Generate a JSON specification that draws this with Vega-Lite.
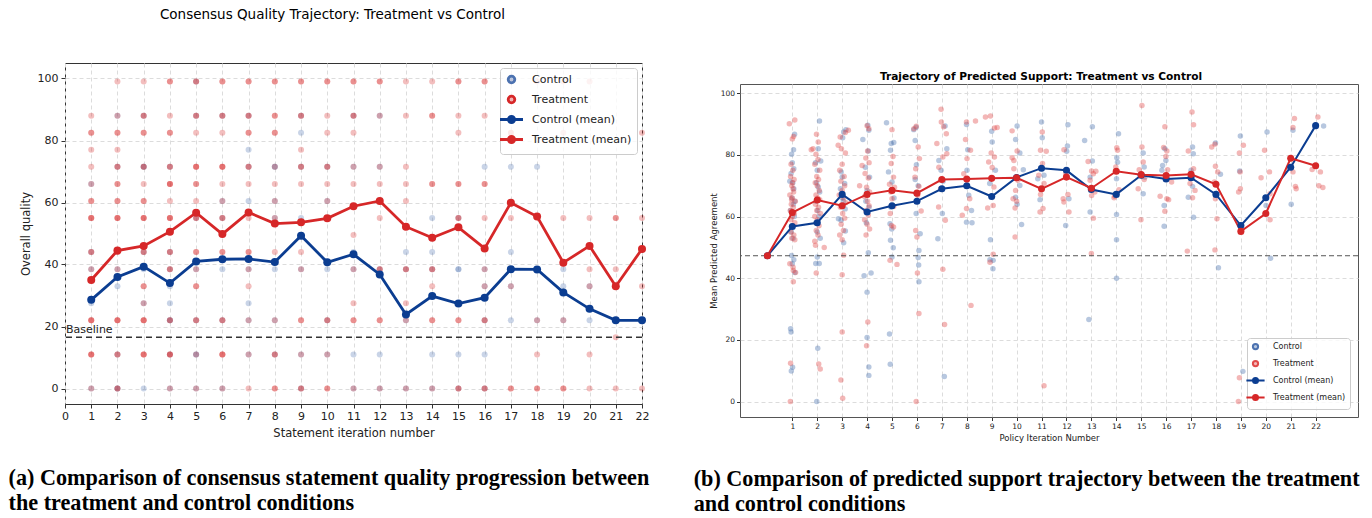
{
"$schema": "https://vega.github.io/schema/vega-lite/v6.json",
"padding": {"left": 8, "top": 7, "right": 0, "bottom": 0},
"background": "white",
"config": {
  "font": "DejaVu Sans",
  "view": {"stroke": null},
  "title": {"color": "#000"},
  "axis": {"labelColor": "#222", "titleColor": "#222", "tickColor": "#333", "domain": false, "titleFontWeight": "normal", "gridDash": [4, 3], "gridColor": "#dcdcdc", "labelFont": "DejaVu Sans", "titleFont": "DejaVu Sans", "labelOverlap": false, "tickCount": 40, "format": "d"}
},
"datasets": {
"a_pts": [
{"g":"Control","i":1,"q":66},{"g":"Control","i":1,"q":44},{"g":"Control","i":1,"q":38.5},{"g":"Control","i":1,"q":27.5},{"g":"Control","i":1,"q":0},
{"g":"Control","i":2,"q":88},{"g":"Control","i":2,"q":71.5},{"g":"Control","i":2,"q":38.5},{"g":"Control","i":2,"q":33},{"g":"Control","i":2,"q":11},{"g":"Control","i":2,"q":0},{"g":"Control","i":2,"q":0},
{"g":"Control","i":3,"q":88},{"g":"Control","i":3,"q":71.5},{"g":"Control","i":3,"q":71.5},{"g":"Control","i":3,"q":44},{"g":"Control","i":3,"q":38.5},{"g":"Control","i":3,"q":27.5},{"g":"Control","i":3,"q":0},
{"g":"Control","i":4,"q":71.5},{"g":"Control","i":4,"q":44},{"g":"Control","i":4,"q":38.5},{"g":"Control","i":4,"q":33},{"g":"Control","i":4,"q":27.5},{"g":"Control","i":4,"q":22},{"g":"Control","i":4,"q":22},{"g":"Control","i":4,"q":11},{"g":"Control","i":4,"q":0},
{"g":"Control","i":5,"q":99},{"g":"Control","i":5,"q":88},{"g":"Control","i":5,"q":55},{"g":"Control","i":5,"q":38.5},{"g":"Control","i":5,"q":22},{"g":"Control","i":5,"q":11},{"g":"Control","i":5,"q":11},{"g":"Control","i":5,"q":0},
{"g":"Control","i":6,"q":88},{"g":"Control","i":6,"q":60.5},{"g":"Control","i":6,"q":55},{"g":"Control","i":6,"q":38.5},{"g":"Control","i":6,"q":22},{"g":"Control","i":6,"q":0},
{"g":"Control","i":7,"q":88},{"g":"Control","i":7,"q":77},{"g":"Control","i":7,"q":71.5},{"g":"Control","i":7,"q":60.5},{"g":"Control","i":7,"q":38.5},{"g":"Control","i":7,"q":27.5},{"g":"Control","i":7,"q":22},{"g":"Control","i":7,"q":11},
{"g":"Control","i":8,"q":71.5},{"g":"Control","i":8,"q":71.5},{"g":"Control","i":8,"q":60.5},{"g":"Control","i":8,"q":55},{"g":"Control","i":8,"q":38.5},{"g":"Control","i":8,"q":22},{"g":"Control","i":8,"q":11},
{"g":"Control","i":9,"q":88},{"g":"Control","i":9,"q":82.5},{"g":"Control","i":9,"q":71.5},{"g":"Control","i":9,"q":55},{"g":"Control","i":9,"q":49.5},{"g":"Control","i":9,"q":38.5},{"g":"Control","i":9,"q":11},{"g":"Control","i":9,"q":0},
{"g":"Control","i":10,"q":71.5},{"g":"Control","i":10,"q":60.5},{"g":"Control","i":10,"q":38.5},{"g":"Control","i":10,"q":22},{"g":"Control","i":10,"q":11},
{"g":"Control","i":11,"q":88},{"g":"Control","i":11,"q":71.5},{"g":"Control","i":11,"q":44},{"g":"Control","i":11,"q":38.5},{"g":"Control","i":11,"q":11},{"g":"Control","i":11,"q":0},
{"g":"Control","i":12,"q":88},{"g":"Control","i":12,"q":71.5},{"g":"Control","i":12,"q":38.5},{"g":"Control","i":12,"q":11},{"g":"Control","i":12,"q":0},
{"g":"Control","i":13,"q":44},{"g":"Control","i":13,"q":38.5},{"g":"Control","i":13,"q":22},{"g":"Control","i":13,"q":0},
{"g":"Control","i":14,"q":55},{"g":"Control","i":14,"q":44},{"g":"Control","i":14,"q":38.5},{"g":"Control","i":14,"q":11},{"g":"Control","i":14,"q":0},
{"g":"Control","i":15,"q":55},{"g":"Control","i":15,"q":38.5},{"g":"Control","i":15,"q":38.5},{"g":"Control","i":15,"q":11},{"g":"Control","i":15,"q":0},
{"g":"Control","i":16,"q":71.5},{"g":"Control","i":16,"q":38.5},{"g":"Control","i":16,"q":33},{"g":"Control","i":16,"q":22},{"g":"Control","i":16,"q":11},{"g":"Control","i":16,"q":0},
{"g":"Control","i":17,"q":71.5},{"g":"Control","i":17,"q":44},{"g":"Control","i":17,"q":33},{"g":"Control","i":17,"q":22},
{"g":"Control","i":18,"q":71.5},{"g":"Control","i":18,"q":38.5},{"g":"Control","i":18,"q":22},
{"g":"Control","i":19,"q":38.5},{"g":"Control","i":19,"q":33},{"g":"Control","i":19,"q":22},
{"g":"Control","i":20,"q":33},{"g":"Control","i":20,"q":22},
{"g":"Control","i":21,"q":22},
{"g":"Control","i":22,"q":22},
{"g":"Treatment","i":1,"q":88},{"g":"Treatment","i":1,"q":82.5},{"g":"Treatment","i":1,"q":82.5},{"g":"Treatment","i":1,"q":77},{"g":"Treatment","i":1,"q":71.5},{"g":"Treatment","i":1,"q":66},{"g":"Treatment","i":1,"q":60.5},{"g":"Treatment","i":1,"q":60.5},{"g":"Treatment","i":1,"q":55},{"g":"Treatment","i":1,"q":55},{"g":"Treatment","i":1,"q":55},{"g":"Treatment","i":1,"q":44},{"g":"Treatment","i":1,"q":44},{"g":"Treatment","i":1,"q":38.5},{"g":"Treatment","i":1,"q":22},{"g":"Treatment","i":1,"q":22},{"g":"Treatment","i":1,"q":22},{"g":"Treatment","i":1,"q":11},{"g":"Treatment","i":1,"q":11},{"g":"Treatment","i":1,"q":11},{"g":"Treatment","i":1,"q":0},
{"g":"Treatment","i":2,"q":99},{"g":"Treatment","i":2,"q":88},{"g":"Treatment","i":2,"q":82.5},{"g":"Treatment","i":2,"q":82.5},{"g":"Treatment","i":2,"q":77},{"g":"Treatment","i":2,"q":71.5},{"g":"Treatment","i":2,"q":71.5},{"g":"Treatment","i":2,"q":66},{"g":"Treatment","i":2,"q":66},{"g":"Treatment","i":2,"q":60.5},{"g":"Treatment","i":2,"q":60.5},{"g":"Treatment","i":2,"q":55},{"g":"Treatment","i":2,"q":55},{"g":"Treatment","i":2,"q":55},{"g":"Treatment","i":2,"q":44},{"g":"Treatment","i":2,"q":44},{"g":"Treatment","i":2,"q":38.5},{"g":"Treatment","i":2,"q":22},{"g":"Treatment","i":2,"q":22},{"g":"Treatment","i":2,"q":22},{"g":"Treatment","i":2,"q":11},{"g":"Treatment","i":2,"q":11},{"g":"Treatment","i":2,"q":0},{"g":"Treatment","i":2,"q":0},
{"g":"Treatment","i":3,"q":99},{"g":"Treatment","i":3,"q":88},{"g":"Treatment","i":3,"q":88},{"g":"Treatment","i":3,"q":82.5},{"g":"Treatment","i":3,"q":82.5},{"g":"Treatment","i":3,"q":71.5},{"g":"Treatment","i":3,"q":71.5},{"g":"Treatment","i":3,"q":66},{"g":"Treatment","i":3,"q":60.5},{"g":"Treatment","i":3,"q":60.5},{"g":"Treatment","i":3,"q":55},{"g":"Treatment","i":3,"q":55},{"g":"Treatment","i":3,"q":55},{"g":"Treatment","i":3,"q":44},{"g":"Treatment","i":3,"q":44},{"g":"Treatment","i":3,"q":33},{"g":"Treatment","i":3,"q":33},{"g":"Treatment","i":3,"q":27.5},{"g":"Treatment","i":3,"q":22},{"g":"Treatment","i":3,"q":22},{"g":"Treatment","i":3,"q":22},{"g":"Treatment","i":3,"q":11},{"g":"Treatment","i":3,"q":11},{"g":"Treatment","i":3,"q":11},
{"g":"Treatment","i":4,"q":99},{"g":"Treatment","i":4,"q":99},{"g":"Treatment","i":4,"q":88},{"g":"Treatment","i":4,"q":82.5},{"g":"Treatment","i":4,"q":82.5},{"g":"Treatment","i":4,"q":71.5},{"g":"Treatment","i":4,"q":71.5},{"g":"Treatment","i":4,"q":66},{"g":"Treatment","i":4,"q":66},{"g":"Treatment","i":4,"q":66},{"g":"Treatment","i":4,"q":60.5},{"g":"Treatment","i":4,"q":55},{"g":"Treatment","i":4,"q":55},{"g":"Treatment","i":4,"q":55},{"g":"Treatment","i":4,"q":44},{"g":"Treatment","i":4,"q":44},{"g":"Treatment","i":4,"q":38.5},{"g":"Treatment","i":4,"q":38.5},{"g":"Treatment","i":4,"q":22},{"g":"Treatment","i":4,"q":22},{"g":"Treatment","i":4,"q":11},{"g":"Treatment","i":4,"q":11},{"g":"Treatment","i":4,"q":11},{"g":"Treatment","i":4,"q":0},
{"g":"Treatment","i":5,"q":99},{"g":"Treatment","i":5,"q":99},{"g":"Treatment","i":5,"q":88},{"g":"Treatment","i":5,"q":88},{"g":"Treatment","i":5,"q":82.5},{"g":"Treatment","i":5,"q":71.5},{"g":"Treatment","i":5,"q":71.5},{"g":"Treatment","i":5,"q":71.5},{"g":"Treatment","i":5,"q":66},{"g":"Treatment","i":5,"q":66},{"g":"Treatment","i":5,"q":60.5},{"g":"Treatment","i":5,"q":55},{"g":"Treatment","i":5,"q":55},{"g":"Treatment","i":5,"q":44},{"g":"Treatment","i":5,"q":44},{"g":"Treatment","i":5,"q":38.5},{"g":"Treatment","i":5,"q":33},{"g":"Treatment","i":5,"q":33},{"g":"Treatment","i":5,"q":22},{"g":"Treatment","i":5,"q":22},{"g":"Treatment","i":5,"q":11},{"g":"Treatment","i":5,"q":0},
{"g":"Treatment","i":6,"q":99},{"g":"Treatment","i":6,"q":99},{"g":"Treatment","i":6,"q":88},{"g":"Treatment","i":6,"q":88},{"g":"Treatment","i":6,"q":82.5},{"g":"Treatment","i":6,"q":71.5},{"g":"Treatment","i":6,"q":71.5},{"g":"Treatment","i":6,"q":71.5},{"g":"Treatment","i":6,"q":66},{"g":"Treatment","i":6,"q":60.5},{"g":"Treatment","i":6,"q":55},{"g":"Treatment","i":6,"q":55},{"g":"Treatment","i":6,"q":44},{"g":"Treatment","i":6,"q":44},{"g":"Treatment","i":6,"q":22},{"g":"Treatment","i":6,"q":22},{"g":"Treatment","i":6,"q":11},{"g":"Treatment","i":6,"q":11},{"g":"Treatment","i":6,"q":11},{"g":"Treatment","i":6,"q":0},
{"g":"Treatment","i":7,"q":99},{"g":"Treatment","i":7,"q":99},{"g":"Treatment","i":7,"q":88},{"g":"Treatment","i":7,"q":88},{"g":"Treatment","i":7,"q":82.5},{"g":"Treatment","i":7,"q":82.5},{"g":"Treatment","i":7,"q":71.5},{"g":"Treatment","i":7,"q":71.5},{"g":"Treatment","i":7,"q":66},{"g":"Treatment","i":7,"q":55},{"g":"Treatment","i":7,"q":44},{"g":"Treatment","i":7,"q":44},{"g":"Treatment","i":7,"q":38.5},{"g":"Treatment","i":7,"q":33},{"g":"Treatment","i":7,"q":22},{"g":"Treatment","i":7,"q":11},{"g":"Treatment","i":7,"q":0},
{"g":"Treatment","i":8,"q":99},{"g":"Treatment","i":8,"q":99},{"g":"Treatment","i":8,"q":88},{"g":"Treatment","i":8,"q":88},{"g":"Treatment","i":8,"q":82.5},{"g":"Treatment","i":8,"q":82.5},{"g":"Treatment","i":8,"q":71.5},{"g":"Treatment","i":8,"q":66},{"g":"Treatment","i":8,"q":60.5},{"g":"Treatment","i":8,"q":55},{"g":"Treatment","i":8,"q":44},{"g":"Treatment","i":8,"q":22},{"g":"Treatment","i":8,"q":11},{"g":"Treatment","i":8,"q":11},{"g":"Treatment","i":8,"q":0},{"g":"Treatment","i":8,"q":0},
{"g":"Treatment","i":9,"q":99},{"g":"Treatment","i":9,"q":99},{"g":"Treatment","i":9,"q":88},{"g":"Treatment","i":9,"q":88},{"g":"Treatment","i":9,"q":77},{"g":"Treatment","i":9,"q":71.5},{"g":"Treatment","i":9,"q":71.5},{"g":"Treatment","i":9,"q":66},{"g":"Treatment","i":9,"q":44},{"g":"Treatment","i":9,"q":38.5},{"g":"Treatment","i":9,"q":22},{"g":"Treatment","i":9,"q":22},{"g":"Treatment","i":9,"q":11},{"g":"Treatment","i":9,"q":0},{"g":"Treatment","i":9,"q":0},
{"g":"Treatment","i":10,"q":99},{"g":"Treatment","i":10,"q":99},{"g":"Treatment","i":10,"q":88},{"g":"Treatment","i":10,"q":82.5},{"g":"Treatment","i":10,"q":71.5},{"g":"Treatment","i":10,"q":71.5},{"g":"Treatment","i":10,"q":66},{"g":"Treatment","i":10,"q":60.5},{"g":"Treatment","i":10,"q":22},{"g":"Treatment","i":10,"q":22},{"g":"Treatment","i":10,"q":11},{"g":"Treatment","i":10,"q":0},{"g":"Treatment","i":10,"q":0},
{"g":"Treatment","i":11,"q":99},{"g":"Treatment","i":11,"q":99},{"g":"Treatment","i":11,"q":88},{"g":"Treatment","i":11,"q":88},{"g":"Treatment","i":11,"q":82.5},{"g":"Treatment","i":11,"q":71.5},{"g":"Treatment","i":11,"q":66},{"g":"Treatment","i":11,"q":49.5},{"g":"Treatment","i":11,"q":38.5},{"g":"Treatment","i":11,"q":27.5},{"g":"Treatment","i":11,"q":22},{"g":"Treatment","i":11,"q":22},{"g":"Treatment","i":11,"q":0},
{"g":"Treatment","i":12,"q":99},{"g":"Treatment","i":12,"q":99},{"g":"Treatment","i":12,"q":88},{"g":"Treatment","i":12,"q":71.5},{"g":"Treatment","i":12,"q":66},{"g":"Treatment","i":12,"q":55},{"g":"Treatment","i":12,"q":38.5},{"g":"Treatment","i":12,"q":38.5},{"g":"Treatment","i":12,"q":22},{"g":"Treatment","i":12,"q":22},{"g":"Treatment","i":12,"q":0},
{"g":"Treatment","i":13,"q":99},{"g":"Treatment","i":13,"q":88},{"g":"Treatment","i":13,"q":71.5},{"g":"Treatment","i":13,"q":66},{"g":"Treatment","i":13,"q":60.5},{"g":"Treatment","i":13,"q":38.5},{"g":"Treatment","i":13,"q":38.5},{"g":"Treatment","i":13,"q":27.5},{"g":"Treatment","i":13,"q":22},{"g":"Treatment","i":13,"q":0},
{"g":"Treatment","i":14,"q":99},{"g":"Treatment","i":14,"q":88},{"g":"Treatment","i":14,"q":88},{"g":"Treatment","i":14,"q":66},{"g":"Treatment","i":14,"q":66},{"g":"Treatment","i":14,"q":38.5},{"g":"Treatment","i":14,"q":38.5},{"g":"Treatment","i":14,"q":33},{"g":"Treatment","i":14,"q":22},{"g":"Treatment","i":14,"q":22},{"g":"Treatment","i":14,"q":0},
{"g":"Treatment","i":15,"q":99},{"g":"Treatment","i":15,"q":99},{"g":"Treatment","i":15,"q":88},{"g":"Treatment","i":15,"q":82.5},{"g":"Treatment","i":15,"q":66},{"g":"Treatment","i":15,"q":66},{"g":"Treatment","i":15,"q":55},{"g":"Treatment","i":15,"q":55},{"g":"Treatment","i":15,"q":22},{"g":"Treatment","i":15,"q":22},{"g":"Treatment","i":15,"q":0},{"g":"Treatment","i":15,"q":0},
{"g":"Treatment","i":16,"q":99},{"g":"Treatment","i":16,"q":99},{"g":"Treatment","i":16,"q":88},{"g":"Treatment","i":16,"q":66},{"g":"Treatment","i":16,"q":66},{"g":"Treatment","i":16,"q":55},{"g":"Treatment","i":16,"q":38.5},{"g":"Treatment","i":16,"q":33},{"g":"Treatment","i":16,"q":22},{"g":"Treatment","i":16,"q":22},{"g":"Treatment","i":16,"q":0},{"g":"Treatment","i":16,"q":0},
{"g":"Treatment","i":17,"q":99},{"g":"Treatment","i":17,"q":82.5},{"g":"Treatment","i":17,"q":82.5},{"g":"Treatment","i":17,"q":55},{"g":"Treatment","i":17,"q":33},{"g":"Treatment","i":17,"q":0},{"g":"Treatment","i":17,"q":0},
{"g":"Treatment","i":18,"q":99},{"g":"Treatment","i":18,"q":22},{"g":"Treatment","i":18,"q":11},{"g":"Treatment","i":18,"q":0},{"g":"Treatment","i":18,"q":0},
{"g":"Treatment","i":19,"q":99},{"g":"Treatment","i":19,"q":82.5},{"g":"Treatment","i":19,"q":55},{"g":"Treatment","i":19,"q":22},{"g":"Treatment","i":19,"q":0},{"g":"Treatment","i":19,"q":0},
{"g":"Treatment","i":20,"q":99},{"g":"Treatment","i":20,"q":55},{"g":"Treatment","i":20,"q":38.5},{"g":"Treatment","i":20,"q":33},{"g":"Treatment","i":20,"q":11},{"g":"Treatment","i":20,"q":0},
{"g":"Treatment","i":21,"q":55},{"g":"Treatment","i":21,"q":55},{"g":"Treatment","i":21,"q":38.5},{"g":"Treatment","i":21,"q":16.5},{"g":"Treatment","i":21,"q":0},
{"g":"Treatment","i":22,"q":82.5},{"g":"Treatment","i":22,"q":55},{"g":"Treatment","i":22,"q":33},{"g":"Treatment","i":22,"q":0}
],
"a_mean": [
{"g":"Control (mean)","i":1,"q":28.6},{"g":"Control (mean)","i":2,"q":36},{"g":"Control (mean)","i":3,"q":39.3},{"g":"Control (mean)","i":4,"q":34},{"g":"Control (mean)","i":5,"q":41},{"g":"Control (mean)","i":6,"q":41.7},{"g":"Control (mean)","i":7,"q":41.8},{"g":"Control (mean)","i":8,"q":40.8},{"g":"Control (mean)","i":9,"q":49.3},{"g":"Control (mean)","i":10,"q":40.7},{"g":"Control (mean)","i":11,"q":43.3},{"g":"Control (mean)","i":12,"q":36.8},{"g":"Control (mean)","i":13,"q":23.9},{"g":"Control (mean)","i":14,"q":29.8},{"g":"Control (mean)","i":15,"q":27.4},{"g":"Control (mean)","i":16,"q":29.3},{"g":"Control (mean)","i":17,"q":38.5},{"g":"Control (mean)","i":18,"q":38.4},{"g":"Control (mean)","i":19,"q":31},{"g":"Control (mean)","i":20,"q":25.7},{"g":"Control (mean)","i":21,"q":22},{"g":"Control (mean)","i":22,"q":22},
{"g":"Treatment (mean)","i":1,"q":35},{"g":"Treatment (mean)","i":2,"q":44.5},{"g":"Treatment (mean)","i":3,"q":46},{"g":"Treatment (mean)","i":4,"q":50.6},{"g":"Treatment (mean)","i":5,"q":56.7},{"g":"Treatment (mean)","i":6,"q":49.8},{"g":"Treatment (mean)","i":7,"q":56.8},{"g":"Treatment (mean)","i":8,"q":53.2},{"g":"Treatment (mean)","i":9,"q":53.6},{"g":"Treatment (mean)","i":10,"q":54.9},{"g":"Treatment (mean)","i":11,"q":58.8},{"g":"Treatment (mean)","i":12,"q":60.5},{"g":"Treatment (mean)","i":13,"q":52.2},{"g":"Treatment (mean)","i":14,"q":48.6},{"g":"Treatment (mean)","i":15,"q":52},{"g":"Treatment (mean)","i":16,"q":45.2},{"g":"Treatment (mean)","i":17,"q":59.9},{"g":"Treatment (mean)","i":18,"q":55.5},{"g":"Treatment (mean)","i":19,"q":40.6},{"g":"Treatment (mean)","i":20,"q":46},{"g":"Treatment (mean)","i":21,"q":33},{"g":"Treatment (mean)","i":22,"q":45}
],
"b_pts": [
{"g":"Control","x":1.09,"v":86.7},{"g":"Control","x":1.05,"v":81.7},{"g":"Control","x":0.97,"v":80.2},{"g":"Control","x":1.0,"v":77.5},{"g":"Control","x":0.95,"v":74},{"g":"Control","x":1.06,"v":75.5},{"g":"Control","x":1.02,"v":71},{"g":"Control","x":0.9,"v":71.5},{"g":"Control","x":1.06,"v":69},{"g":"Control","x":0.98,"v":66},{"g":"Control","x":1.1,"v":65},{"g":"Control","x":1.04,"v":64},{"g":"Control","x":0.93,"v":62},{"g":"Control","x":1.08,"v":60},{"g":"Control","x":1.0,"v":57},{"g":"Control","x":0.96,"v":55},{"g":"Control","x":1.03,"v":53},{"g":"Control","x":0.97,"v":47.4},{"g":"Control","x":1.06,"v":46},{"g":"Control","x":1.0,"v":44.7},{"g":"Control","x":1.1,"v":41.9},{"g":"Control","x":0.93,"v":23.6},{"g":"Control","x":0.95,"v":22.6},{"g":"Control","x":1.01,"v":11.1},{"g":"Control","x":0.96,"v":9.9},
{"g":"Control","x":2.09,"v":91},{"g":"Control","x":2.04,"v":82},{"g":"Control","x":2.14,"v":78},{"g":"Control","x":1.93,"v":77.5},{"g":"Control","x":2.0,"v":75},{"g":"Control","x":1.97,"v":71},{"g":"Control","x":2.04,"v":69.6},{"g":"Control","x":2.1,"v":68},{"g":"Control","x":1.96,"v":65},{"g":"Control","x":2.02,"v":62},{"g":"Control","x":2.07,"v":60},{"g":"Control","x":1.94,"v":58},{"g":"Control","x":2.0,"v":55},{"g":"Control","x":2.12,"v":53},{"g":"Control","x":2.0,"v":46.9},{"g":"Control","x":1.94,"v":44.8},{"g":"Control","x":2.08,"v":44.8},{"g":"Control","x":2.02,"v":17.3},{"g":"Control","x":1.98,"v":0},
{"g":"Control","x":3.06,"v":87.4},{"g":"Control","x":3.02,"v":85.6},{"g":"Control","x":3.15,"v":88.2},{"g":"Control","x":2.96,"v":74.5},{"g":"Control","x":3.0,"v":72.8},{"g":"Control","x":3.1,"v":70.7},{"g":"Control","x":2.93,"v":69},{"g":"Control","x":3.05,"v":65},{"g":"Control","x":3.12,"v":62.5},{"g":"Control","x":2.85,"v":59.3},{"g":"Control","x":2.96,"v":58.8},{"g":"Control","x":3.13,"v":55.3},{"g":"Control","x":3.06,"v":51.5},{"g":"Control","x":3.0,"v":66},
{"g":"Control","x":4.03,"v":89.6},{"g":"Control","x":4.07,"v":88},{"g":"Control","x":3.83,"v":85},{"g":"Control","x":4.05,"v":81.3},{"g":"Control","x":3.93,"v":76},{"g":"Control","x":4.1,"v":72.8},{"g":"Control","x":4.0,"v":68.5},{"g":"Control","x":3.95,"v":65},{"g":"Control","x":4.08,"v":63},{"g":"Control","x":3.97,"v":58},{"g":"Control","x":4.05,"v":48.3},{"g":"Control","x":3.88,"v":40.8},{"g":"Control","x":4.16,"v":41.7},{"g":"Control","x":4.0,"v":35.5},{"g":"Control","x":4.0,"v":20.8},{"g":"Control","x":4.07,"v":11.2},{"g":"Control","x":4.07,"v":8.5},
{"g":"Control","x":4.78,"v":90.4},{"g":"Control","x":4.97,"v":83.7},{"g":"Control","x":5.07,"v":84},{"g":"Control","x":4.94,"v":81.5},{"g":"Control","x":4.86,"v":74.5},{"g":"Control","x":5.0,"v":71.2},{"g":"Control","x":5.08,"v":66},{"g":"Control","x":4.95,"v":63},{"g":"Control","x":4.92,"v":57.7},{"g":"Control","x":4.99,"v":56},{"g":"Control","x":4.94,"v":52.3},{"g":"Control","x":5.05,"v":49.9},{"g":"Control","x":5.0,"v":46.9},{"g":"Control","x":4.9,"v":21.9},{"g":"Control","x":4.93,"v":12.1},
{"g":"Control","x":5.87,"v":88.2},{"g":"Control","x":5.97,"v":89},{"g":"Control","x":5.93,"v":84.7},{"g":"Control","x":5.98,"v":76.8},{"g":"Control","x":5.93,"v":72},{"g":"Control","x":6.05,"v":70},{"g":"Control","x":5.98,"v":67.4},{"g":"Control","x":5.97,"v":61},{"g":"Control","x":6.13,"v":54.4},{"g":"Control","x":6.08,"v":49},{"g":"Control","x":6.05,"v":46.7},{"g":"Control","x":6.07,"v":44.3},{"g":"Control","x":6.08,"v":38.9},
{"g":"Control","x":7.13,"v":89.4},{"g":"Control","x":7.2,"v":82},{"g":"Control","x":6.88,"v":78.2},{"g":"Control","x":6.97,"v":75},{"g":"Control","x":7.05,"v":71.5},{"g":"Control","x":7.02,"v":61},{"g":"Control","x":6.84,"v":52.8},{"g":"Control","x":7.1,"v":8.1},
{"g":"Control","x":7.99,"v":89.9},{"g":"Control","x":8.04,"v":81.7},{"g":"Control","x":8.01,"v":75},{"g":"Control","x":8.08,"v":66.9},{"g":"Control","x":8.19,"v":62},{"g":"Control","x":7.99,"v":58.2},{"g":"Control","x":8.21,"v":58},
{"g":"Control","x":9.0,"v":87.7},{"g":"Control","x":9.02,"v":84.2},{"g":"Control","x":9.15,"v":75},{"g":"Control","x":8.92,"v":70.7},{"g":"Control","x":8.95,"v":52.5},{"g":"Control","x":9.06,"v":45.8},{"g":"Control","x":9.05,"v":43.1},{"g":"Control","x":8.93,"v":46},
{"g":"Control","x":10.02,"v":89.4},{"g":"Control","x":9.96,"v":85},{"g":"Control","x":10.13,"v":80.6},{"g":"Control","x":10.27,"v":75.2},{"g":"Control","x":10.13,"v":70.1},{"g":"Control","x":9.96,"v":66.3},{"g":"Control","x":10.02,"v":64},{"g":"Control","x":10.2,"v":57.4},
{"g":"Control","x":11.0,"v":90.7},{"g":"Control","x":11.03,"v":85.6},{"g":"Control","x":10.85,"v":72.3},{"g":"Control","x":11.1,"v":73.4},{"g":"Control","x":10.94,"v":65.5},
{"g":"Control","x":12.06,"v":89.8},{"g":"Control","x":12.04,"v":82.9},{"g":"Control","x":12.01,"v":81.2},{"g":"Control","x":12.1,"v":65.8},{"g":"Control","x":11.97,"v":57.1},
{"g":"Control","x":13.04,"v":89.1},{"g":"Control","x":12.73,"v":84.7},{"g":"Control","x":13.04,"v":78},{"g":"Control","x":12.95,"v":72.8},{"g":"Control","x":12.95,"v":61.5},{"g":"Control","x":12.9,"v":26.6},
{"g":"Control","x":14.09,"v":86.9},{"g":"Control","x":14.02,"v":79.1},{"g":"Control","x":14.05,"v":77.6},{"g":"Control","x":14.01,"v":72.3},{"g":"Control","x":14.01,"v":60.7},{"g":"Control","x":14.01,"v":52.5},{"g":"Control","x":14.01,"v":40},
{"g":"Control","x":15.08,"v":80.6},{"g":"Control","x":15.12,"v":76.1},{"g":"Control","x":15.15,"v":72.8},{"g":"Control","x":15.08,"v":67.4},
{"g":"Control","x":15.95,"v":82},{"g":"Control","x":15.99,"v":78.2},{"g":"Control","x":15.86,"v":76.6},{"g":"Control","x":15.83,"v":75},{"g":"Control","x":15.92,"v":63.6},{"g":"Control","x":15.92,"v":56.9},
{"g":"Control","x":17.06,"v":82.6},{"g":"Control","x":17.09,"v":80.4},{"g":"Control","x":17.0,"v":75},{"g":"Control","x":17.06,"v":69.8},{"g":"Control","x":16.89,"v":66.3},{"g":"Control","x":17.1,"v":59.8},
{"g":"Control","x":17.98,"v":83.9},{"g":"Control","x":18.18,"v":73.7},{"g":"Control","x":18.1,"v":43.4},
{"g":"Control","x":18.98,"v":86.1},{"g":"Control","x":18.95,"v":74.8},{"g":"Control","x":19.08,"v":9.8},
{"g":"Control","x":20.05,"v":87.4},{"g":"Control","x":20.01,"v":63.6},{"g":"Control","x":20.19,"v":46.5},
{"g":"Control","x":21.09,"v":88},{"g":"Control","x":21.02,"v":64},
{"g":"Control","x":22.32,"v":89.4},
{"g":"Treatment","x":0.88,"v":90.1},{"g":"Treatment","x":1.1,"v":91.3},{"g":"Treatment","x":1.0,"v":85.2},{"g":"Treatment","x":1.05,"v":86},{"g":"Treatment","x":0.95,"v":77},{"g":"Treatment","x":1.02,"v":75},{"g":"Treatment","x":0.93,"v":73},{"g":"Treatment","x":1.07,"v":72},{"g":"Treatment","x":0.98,"v":70},{"g":"Treatment","x":1.03,"v":69},{"g":"Treatment","x":1.05,"v":68},{"g":"Treatment","x":0.9,"v":67},{"g":"Treatment","x":1.0,"v":66},{"g":"Treatment","x":0.97,"v":65.5},{"g":"Treatment","x":1.12,"v":65},{"g":"Treatment","x":0.96,"v":64},{"g":"Treatment","x":1.04,"v":63},{"g":"Treatment","x":0.92,"v":62},{"g":"Treatment","x":1.08,"v":61},{"g":"Treatment","x":1.0,"v":60},{"g":"Treatment","x":0.95,"v":59},{"g":"Treatment","x":1.1,"v":58},{"g":"Treatment","x":1.02,"v":57},{"g":"Treatment","x":0.94,"v":55},{"g":"Treatment","x":1.06,"v":54},{"g":"Treatment","x":0.98,"v":53},{"g":"Treatment","x":1.1,"v":52.5},{"g":"Treatment","x":0.9,"v":44.7},{"g":"Treatment","x":1.03,"v":43.6},{"g":"Treatment","x":1.04,"v":42.5},{"g":"Treatment","x":1.13,"v":41.9},{"g":"Treatment","x":1.04,"v":38.9},{"g":"Treatment","x":0.93,"v":12.4},{"g":"Treatment","x":0.92,"v":0},{"g":"Treatment","x":1.0,"v":71},
{"g":"Treatment","x":1.97,"v":86.7},{"g":"Treatment","x":2.04,"v":84.2},{"g":"Treatment","x":1.76,"v":81.7},{"g":"Treatment","x":1.83,"v":82},{"g":"Treatment","x":1.95,"v":80.2},{"g":"Treatment","x":2.03,"v":78.5},{"g":"Treatment","x":1.9,"v":77},{"g":"Treatment","x":2.1,"v":75},{"g":"Treatment","x":1.98,"v":73},{"g":"Treatment","x":2.05,"v":72},{"g":"Treatment","x":1.92,"v":71},{"g":"Treatment","x":2.0,"v":70},{"g":"Treatment","x":2.08,"v":68.5},{"g":"Treatment","x":1.95,"v":67},{"g":"Treatment","x":2.02,"v":66},{"g":"Treatment","x":2.1,"v":65.5},{"g":"Treatment","x":1.93,"v":64},{"g":"Treatment","x":2.05,"v":63},{"g":"Treatment","x":1.98,"v":62},{"g":"Treatment","x":2.13,"v":61},{"g":"Treatment","x":1.9,"v":60},{"g":"Treatment","x":2.0,"v":59},{"g":"Treatment","x":2.07,"v":57},{"g":"Treatment","x":1.96,"v":55.5},{"g":"Treatment","x":2.03,"v":54},{"g":"Treatment","x":1.9,"v":52},{"g":"Treatment","x":2.28,"v":50},{"g":"Treatment","x":1.93,"v":50.7},{"g":"Treatment","x":1.96,"v":41.7},{"g":"Treatment","x":2.06,"v":12.2},{"g":"Treatment","x":2.12,"v":10.6},
{"g":"Treatment","x":2.92,"v":85.8},{"g":"Treatment","x":3.13,"v":87.3},{"g":"Treatment","x":3.25,"v":88},{"g":"Treatment","x":2.84,"v":83.1},{"g":"Treatment","x":2.97,"v":82},{"g":"Treatment","x":3.13,"v":80.6},{"g":"Treatment","x":3.0,"v":77},{"g":"Treatment","x":2.9,"v":75},{"g":"Treatment","x":3.08,"v":73},{"g":"Treatment","x":2.95,"v":71.5},{"g":"Treatment","x":3.1,"v":70},{"g":"Treatment","x":3.0,"v":68.5},{"g":"Treatment","x":2.88,"v":67},{"g":"Treatment","x":3.05,"v":66},{"g":"Treatment","x":3.15,"v":64.5},{"g":"Treatment","x":2.93,"v":63},{"g":"Treatment","x":3.02,"v":61},{"g":"Treatment","x":3.1,"v":59.5},{"g":"Treatment","x":2.96,"v":57.5},{"g":"Treatment","x":3.05,"v":55.5},{"g":"Treatment","x":2.9,"v":54},{"g":"Treatment","x":3.0,"v":52.5},{"g":"Treatment","x":3.06,"v":47.5},{"g":"Treatment","x":3.0,"v":41.1},{"g":"Treatment","x":3.0,"v":22.6},{"g":"Treatment","x":2.95,"v":7},{"g":"Treatment","x":3.02,"v":1.1},
{"g":"Treatment","x":4.0,"v":89.5},{"g":"Treatment","x":4.07,"v":88.5},{"g":"Treatment","x":3.8,"v":76.6},{"g":"Treatment","x":4.02,"v":81.3},{"g":"Treatment","x":3.95,"v":79},{"g":"Treatment","x":4.08,"v":77.5},{"g":"Treatment","x":3.92,"v":74},{"g":"Treatment","x":4.05,"v":72.5},{"g":"Treatment","x":3.7,"v":70},{"g":"Treatment","x":3.98,"v":69.5},{"g":"Treatment","x":4.1,"v":68},{"g":"Treatment","x":3.9,"v":66.5},{"g":"Treatment","x":4.02,"v":65},{"g":"Treatment","x":4.08,"v":63.5},{"g":"Treatment","x":3.95,"v":62},{"g":"Treatment","x":4.05,"v":60.5},{"g":"Treatment","x":3.9,"v":59},{"g":"Treatment","x":4.0,"v":57.5},{"g":"Treatment","x":4.1,"v":56},{"g":"Treatment","x":3.96,"v":54},{"g":"Treatment","x":4.03,"v":25.8},{"g":"Treatment","x":3.98,"v":18.1},
{"g":"Treatment","x":5.0,"v":88.2},{"g":"Treatment","x":5.04,"v":79.5},{"g":"Treatment","x":4.97,"v":77.2},{"g":"Treatment","x":5.06,"v":72.8},{"g":"Treatment","x":4.9,"v":70.5},{"g":"Treatment","x":5.1,"v":69.5},{"g":"Treatment","x":4.95,"v":68},{"g":"Treatment","x":5.0,"v":65.8},{"g":"Treatment","x":5.07,"v":63.3},{"g":"Treatment","x":4.93,"v":61},{"g":"Treatment","x":4.98,"v":57.1},{"g":"Treatment","x":5.06,"v":56.6},{"g":"Treatment","x":4.92,"v":45.8},{"g":"Treatment","x":5.2,"v":44.5},
{"g":"Treatment","x":5.88,"v":88.5},{"g":"Treatment","x":5.97,"v":89.3},{"g":"Treatment","x":6.05,"v":82.6},{"g":"Treatment","x":6.1,"v":78.8},{"g":"Treatment","x":5.95,"v":75.5},{"g":"Treatment","x":5.92,"v":72.8},{"g":"Treatment","x":6.08,"v":69.8},{"g":"Treatment","x":6.03,"v":66.9},{"g":"Treatment","x":6.17,"v":61.8},{"g":"Treatment","x":5.95,"v":55.5},{"g":"Treatment","x":6.0,"v":53.4},{"g":"Treatment","x":6.02,"v":41.7},{"g":"Treatment","x":6.08,"v":28.6},{"g":"Treatment","x":5.97,"v":0},
{"g":"Treatment","x":6.97,"v":94.8},{"g":"Treatment","x":6.98,"v":90.7},{"g":"Treatment","x":7.07,"v":89.1},{"g":"Treatment","x":7.18,"v":86.9},{"g":"Treatment","x":6.8,"v":83.7},{"g":"Treatment","x":7.04,"v":79.3},{"g":"Treatment","x":7.2,"v":80.4},{"g":"Treatment","x":6.88,"v":76},{"g":"Treatment","x":6.95,"v":69},{"g":"Treatment","x":6.87,"v":63.1},{"g":"Treatment","x":7.14,"v":58.8},{"g":"Treatment","x":7.04,"v":42.9},{"g":"Treatment","x":7.11,"v":25},
{"g":"Treatment","x":7.99,"v":90.7},{"g":"Treatment","x":8.35,"v":91},{"g":"Treatment","x":7.95,"v":85},{"g":"Treatment","x":8.15,"v":81.5},{"g":"Treatment","x":8.01,"v":78.8},{"g":"Treatment","x":7.88,"v":73.9},{"g":"Treatment","x":8.12,"v":65.8},{"g":"Treatment","x":7.99,"v":62.6},{"g":"Treatment","x":7.82,"v":60.4},{"g":"Treatment","x":8.17,"v":31.2},
{"g":"Treatment","x":8.75,"v":92.3},{"g":"Treatment","x":8.95,"v":92.6},{"g":"Treatment","x":9.11,"v":88.7},{"g":"Treatment","x":9.22,"v":88.9},{"g":"Treatment","x":8.98,"v":80.6},{"g":"Treatment","x":9.11,"v":79.3},{"g":"Treatment","x":8.88,"v":77.7},{"g":"Treatment","x":9.02,"v":75.9},{"g":"Treatment","x":9.09,"v":69.6},{"g":"Treatment","x":9.06,"v":63.6},{"g":"Treatment","x":8.84,"v":62.8},{"g":"Treatment","x":9.06,"v":47.8},{"g":"Treatment","x":8.93,"v":45.2},
{"g":"Treatment","x":9.82,"v":87.8},{"g":"Treatment","x":9.89,"v":78.2},{"g":"Treatment","x":10.02,"v":81.3},{"g":"Treatment","x":9.82,"v":79.1},{"g":"Treatment","x":9.89,"v":75.5},{"g":"Treatment","x":10.05,"v":71.8},{"g":"Treatment","x":9.96,"v":68.5},{"g":"Treatment","x":9.86,"v":65.8},{"g":"Treatment","x":10.0,"v":65},{"g":"Treatment","x":9.94,"v":62.8},{"g":"Treatment","x":9.94,"v":53.4},
{"g":"Treatment","x":11.03,"v":87.4},{"g":"Treatment","x":10.96,"v":81.5},{"g":"Treatment","x":11.19,"v":81.2},{"g":"Treatment","x":11.04,"v":77.2},{"g":"Treatment","x":10.89,"v":73.4},{"g":"Treatment","x":11.1,"v":70.7},{"g":"Treatment","x":10.96,"v":67.2},{"g":"Treatment","x":11.06,"v":62.6},{"g":"Treatment","x":10.94,"v":61.5},{"g":"Treatment","x":11.1,"v":5.1},
{"g":"Treatment","x":11.9,"v":81.7},{"g":"Treatment","x":11.97,"v":73.9},{"g":"Treatment","x":11.87,"v":65.8},{"g":"Treatment","x":12.06,"v":67.2},{"g":"Treatment","x":11.9,"v":64.7},{"g":"Treatment","x":12.1,"v":61.5},
{"g":"Treatment","x":12.87,"v":77.9},{"g":"Treatment","x":13.01,"v":74.8},{"g":"Treatment","x":13.08,"v":73.9},{"g":"Treatment","x":13.18,"v":74.7},{"g":"Treatment","x":12.95,"v":71.8},{"g":"Treatment","x":13.14,"v":68},{"g":"Treatment","x":13.01,"v":66.8},{"g":"Treatment","x":13.08,"v":59.5},{"g":"Treatment","x":13.0,"v":48},
{"g":"Treatment","x":14.02,"v":82.3},{"g":"Treatment","x":14.05,"v":81.5},{"g":"Treatment","x":13.98,"v":76.1},{"g":"Treatment","x":14.11,"v":68.7},{"g":"Treatment","x":13.94,"v":66.6},{"g":"Treatment","x":13.91,"v":66.1},
{"g":"Treatment","x":15.03,"v":96},{"g":"Treatment","x":15.03,"v":82.6},{"g":"Treatment","x":15.08,"v":77.7},{"g":"Treatment","x":14.92,"v":75.2},{"g":"Treatment","x":15.12,"v":72},{"g":"Treatment","x":14.88,"v":69},{"g":"Treatment","x":14.99,"v":59},
{"g":"Treatment","x":15.95,"v":89.1},{"g":"Treatment","x":15.9,"v":82.4},{"g":"Treatment","x":16.03,"v":81.3},{"g":"Treatment","x":15.99,"v":79.5},{"g":"Treatment","x":16.06,"v":75.2},{"g":"Treatment","x":16.22,"v":71.2},{"g":"Treatment","x":15.76,"v":66.6},{"g":"Treatment","x":16.03,"v":65.8},{"g":"Treatment","x":16.1,"v":65.5},{"g":"Treatment","x":15.95,"v":61.7},
{"g":"Treatment","x":17.04,"v":93.9},{"g":"Treatment","x":17.1,"v":89.8},{"g":"Treatment","x":16.89,"v":81.3},{"g":"Treatment","x":17.1,"v":75.5},{"g":"Treatment","x":16.96,"v":70.7},{"g":"Treatment","x":17.16,"v":68.5},{"g":"Treatment","x":17.06,"v":66.1},{"g":"Treatment","x":16.85,"v":48.8},
{"g":"Treatment","x":17.83,"v":82.6},{"g":"Treatment","x":17.96,"v":83.5},{"g":"Treatment","x":17.98,"v":76.3},{"g":"Treatment","x":18.07,"v":74.5},{"g":"Treatment","x":17.94,"v":71.2},{"g":"Treatment","x":17.98,"v":65.8},{"g":"Treatment","x":18.04,"v":59.3},{"g":"Treatment","x":17.96,"v":49.2},
{"g":"Treatment","x":18.94,"v":80.6},{"g":"Treatment","x":19.1,"v":83.1},{"g":"Treatment","x":18.97,"v":74.5},{"g":"Treatment","x":18.91,"v":68},{"g":"Treatment","x":18.98,"v":69},{"g":"Treatment","x":18.94,"v":7.7},{"g":"Treatment","x":18.9,"v":0},
{"g":"Treatment","x":19.95,"v":81.5},{"g":"Treatment","x":20.15,"v":74.5},{"g":"Treatment","x":19.81,"v":72.6},{"g":"Treatment","x":20.17,"v":67.4},{"g":"Treatment","x":20.17,"v":59},
{"g":"Treatment","x":21.15,"v":91.8},{"g":"Treatment","x":21.09,"v":88.9},{"g":"Treatment","x":21.09,"v":74.5},{"g":"Treatment","x":21.19,"v":69.8},{"g":"Treatment","x":21.22,"v":69},
{"g":"Treatment","x":22.09,"v":92.3},{"g":"Treatment","x":21.86,"v":75.3},{"g":"Treatment","x":22.19,"v":74.5},{"g":"Treatment","x":22.13,"v":70},{"g":"Treatment","x":22.29,"v":69.4}
],
"b_mean": [
{"g":"Control (mean)","x":0,"v":47.3},{"g":"Control (mean)","x":1,"v":56.8},{"g":"Control (mean)","x":2,"v":58},{"g":"Control (mean)","x":3,"v":67.2},{"g":"Control (mean)","x":4,"v":61.5},{"g":"Control (mean)","x":5,"v":63.5},{"g":"Control (mean)","x":6,"v":65},{"g":"Control (mean)","x":7,"v":69},{"g":"Control (mean)","x":8,"v":70},{"g":"Control (mean)","x":9,"v":66.5},{"g":"Control (mean)","x":10,"v":72.7},{"g":"Control (mean)","x":11,"v":75.7},{"g":"Control (mean)","x":12,"v":75},{"g":"Control (mean)","x":13,"v":68.8},{"g":"Control (mean)","x":14,"v":67.2},{"g":"Control (mean)","x":15,"v":73.4},{"g":"Control (mean)","x":16,"v":72.2},{"g":"Control (mean)","x":17,"v":72.6},{"g":"Control (mean)","x":18,"v":67.2},{"g":"Control (mean)","x":19,"v":57.1},{"g":"Control (mean)","x":20,"v":66.1},{"g":"Control (mean)","x":21,"v":76},{"g":"Control (mean)","x":22,"v":89.5},
{"g":"Treatment (mean)","x":0,"v":47.3},{"g":"Treatment (mean)","x":1,"v":61.3},{"g":"Treatment (mean)","x":2,"v":65.4},{"g":"Treatment (mean)","x":3,"v":63.5},{"g":"Treatment (mean)","x":4,"v":67.2},{"g":"Treatment (mean)","x":5,"v":68.5},{"g":"Treatment (mean)","x":6,"v":67.6},{"g":"Treatment (mean)","x":7,"v":72},{"g":"Treatment (mean)","x":8,"v":72.2},{"g":"Treatment (mean)","x":9,"v":72.4},{"g":"Treatment (mean)","x":10,"v":72.6},{"g":"Treatment (mean)","x":11,"v":69},{"g":"Treatment (mean)","x":12,"v":72.8},{"g":"Treatment (mean)","x":13,"v":69.2},{"g":"Treatment (mean)","x":14,"v":74.7},{"g":"Treatment (mean)","x":15,"v":73.6},{"g":"Treatment (mean)","x":16,"v":73.3},{"g":"Treatment (mean)","x":17,"v":73.7},{"g":"Treatment (mean)","x":18,"v":70.5},{"g":"Treatment (mean)","x":19,"v":55.2},{"g":"Treatment (mean)","x":20,"v":61},{"g":"Treatment (mean)","x":21,"v":78.9},{"g":"Treatment (mean)","x":22,"v":76.5}
]
},
"spacing": 43,
"resolve": {"scale": {"color": "independent", "x": "independent", "y": "independent"}, "legend": {"color": "independent"}},
"hconcat": [
{
  "title": {"text": ["(a) Comparison of consensus statement quality progression between", "the treatment and control conditions"], "orient": "bottom", "anchor": "start", "frame": "bounds", "font": "Liberation Serif", "fontSize": 22.2, "fontWeight": "bold", "lineHeight": 25, "offset": 28, "dx": -11, "color": "#000"},
  "resolve": {"scale": {"color": "independent"}, "legend": {"color": "independent"}},
  "vconcat": [
  {
    "width": 577, "height": 341,
    "view": {"stroke": "#333", "strokeWidth": 1},
    "title": {"text": "Consensus Quality Trajectory: Treatment vs Control", "fontSize": 13.5, "fontWeight": "normal", "anchor": "middle", "offset": 42, "dx": -21, "color": "#000"},
    "layer": [
      {"data": {"name": "a_pts"}, "mark": {"type": "circle", "size": 36, "opacity": 0.3},
       "encoding": {
         "x": {"field": "i", "type": "quantitative", "title": "Statement iteration number", "scale": {"domain": [0, 22], "nice": false, "zero": false}, "axis": {"values": [0,1,2,3,4,5,6,7,8,9,10,11,12,13,14,15,16,17,18,19,20,21,22], "tickCount": 40, "format": "d", "grid": true, "tickSize": 4, "labelFontSize": 11, "titleFontSize": 11.5, "labelPadding": 2, "titlePadding": 6, "labelFlush": false, "labelOverlap": false}},
         "y": {"field": "q", "type": "quantitative", "title": "Overall quality", "scale": {"domain": [-5, 105], "nice": false, "zero": false}, "axis": {"values": [0,20,40,60,80,100], "tickCount": 40, "format": "d", "grid": true, "tickSize": 4, "labelFontSize": 11, "titleFontSize": 11.5, "labelPadding": 3, "titlePadding": 6}},
         "color": {"field": "g", "type": "nominal", "scale": {"domain": ["Control", "Treatment", "Control (mean)", "Treatment (mean)"], "range": ["#4c72b0", "#d62728", "#0b3d91", "#d62728"]},
           "legend": {"orient": "top-right", "offset": 5, "title": null, "fillColor": "rgba(255,255,255,0.8)", "strokeColor": "#cccccc", "cornerRadius": 3, "padding": 5, "labelFontSize": 11, "labelColor": "#222", "labelOffset": 14, "symbolSize": 100, "symbolOpacity": 1, "rowPadding": 1,
             "encoding": {"symbols": {
               "shape": {"value": {"expr": "indexof(datum.value,'mean')>0 ? 'M-2.3,0H2.3M-0.62,0A0.62,0.62,0,1,1,0.62,0A0.62,0.62,0,1,1,-0.62,0' : 'M-0.66,0A0.66,0.66,0,1,1,0.66,0A0.66,0.66,0,1,1,-0.66,0'"}},
               "fill": {"value": {"expr": "datum.value=='Control' ? '#4c72b0' : datum.value=='Treatment' ? '#d62728' : datum.value=='Control (mean)' ? '#0b3d91' : '#d62728'"}},
               "stroke": {"value": {"expr": "datum.value=='Control (mean)' ? '#0b3d91' : datum.value=='Treatment (mean)' ? '#d62728' : 'transparent'"}},
               "fillOpacity": {"value": {"expr": "indexof(datum.value,'mean')>0 ? 1 : 0.35"}},
               "strokeWidth": {"value": 2.8}
             }}}}
       }},
      {"data": {"values": [{}]}, "mark": {"type": "rule", "strokeDash": [6, 4], "strokeWidth": 1.5, "color": "#333"}, "encoding": {"y": {"datum": 16.5}}},
      {"data": {"values": [{}]}, "mark": {"type": "text", "align": "left", "baseline": "bottom", "dx": 1, "dy": -2, "fontSize": 11, "color": "#222", "text": "Baseline"}, "encoding": {"x": {"datum": 0}, "y": {"datum": 16.5}}},
      {"data": {"name": "a_mean"}, "mark": {"type": "line", "strokeWidth": 2.8},
       "encoding": {
         "x": {"field": "i", "type": "quantitative", "title": "Statement iteration number"},
         "y": {"field": "q", "type": "quantitative", "title": "Overall quality"},
         "color": {"field": "g", "type": "nominal"}
       }},
      {"data": {"name": "a_mean"}, "mark": {"type": "circle", "size": 64, "opacity": 1},
       "encoding": {
         "x": {"field": "i", "type": "quantitative", "title": "Statement iteration number"},
         "y": {"field": "q", "type": "quantitative", "title": "Overall quality"},
         "color": {"field": "g", "type": "nominal"}
       }}
    ]
  }
  ]
},
{
  "title": {"text": ["(b) Comparison of predicted support trajectory between the treatment", "and control conditions"], "orient": "bottom", "anchor": "start", "frame": "bounds", "font": "Liberation Serif", "fontSize": 22.2, "fontWeight": "bold", "lineHeight": 25, "offset": 26, "dx": -15, "color": "#000"},
  "spacing": 0,
  "resolve": {"scale": {"color": "independent"}, "legend": {"color": "independent"}},
  "vconcat": [
  {"width": 10, "height": 8, "data": {"values": []}, "mark": "point", "encoding": {}},
  {
    "width": 618, "height": 333,
    "view": {"stroke": "#555", "strokeWidth": 1},
    "title": {"text": "Trajectory of Predicted Support: Treatment vs Control", "fontSize": 10.6, "fontWeight": "bold", "anchor": "middle", "frame": "group", "offset": 1, "dx": -8, "color": "#000"},
    "layer": [
      {"data": {"name": "b_pts"}, "mark": {"type": "circle", "size": 30, "opacity": 0.4},
       "encoding": {
         "x": {"field": "x", "type": "quantitative", "title": "Policy Iteration Number", "scale": {"domain": [-1.1, 23.7], "nice": false, "zero": false}, "axis": {"values": [1,2,3,4,5,6,7,8,9,10,11,12,13,14,15,16,17,18,19,20,21,22], "tickCount": 40, "format": "d", "grid": true, "tickSize": 3.5, "labelFontSize": 7.5, "titleFontSize": 8.5, "labelPadding": 2, "titlePadding": 3, "labelOverlap": false}},
         "y": {"field": "v", "type": "quantitative", "title": "Mean Predicted Agreement", "scale": {"domain": [-5, 103], "nice": false, "zero": false}, "axis": {"values": [0,20,40,60,80,100], "tickCount": 40, "format": "d", "grid": true, "tickSize": 3.5, "labelFontSize": 7.5, "titleFontSize": 8.5, "labelPadding": 2, "titlePadding": 2}},
         "color": {"field": "g", "type": "nominal", "scale": {"domain": ["Control", "Treatment", "Control (mean)", "Treatment (mean)"], "range": ["#4c72b0", "#e04a4a", "#0b3d91", "#d62728"]},
           "legend": {"orient": "bottom-right", "offset": 8, "title": null, "fillColor": "rgba(255,255,255,0.8)", "strokeColor": "#cccccc", "cornerRadius": 3, "padding": 4, "labelFontSize": 8, "labelColor": "#222", "labelOffset": 13, "symbolSize": 49, "symbolOpacity": 1, "rowPadding": 2,
             "encoding": {"symbols": {
               "shape": {"value": {"expr": "indexof(datum.value,'mean')>0 ? 'M-2.6,0H2.6M-0.72,0A0.72,0.72,0,1,1,0.72,0A0.72,0.72,0,1,1,-0.72,0' : 'M-0.75,0A0.75,0.75,0,1,1,0.75,0A0.75,0.75,0,1,1,-0.75,0'"}},
               "fill": {"value": {"expr": "datum.value=='Control' ? '#4c72b0' : datum.value=='Treatment' ? '#e04a4a' : datum.value=='Control (mean)' ? '#0b3d91' : '#d62728'"}},
               "stroke": {"value": {"expr": "datum.value=='Control (mean)' ? '#0b3d91' : datum.value=='Treatment (mean)' ? '#d62728' : 'transparent'"}},
               "fillOpacity": {"value": {"expr": "indexof(datum.value,'mean')>0 ? 1 : 0.4"}},
               "strokeWidth": {"value": 2}
             }}}}
       }},
      {"data": {"values": [{}]}, "mark": {"type": "rule", "strokeDash": [5, 3], "strokeWidth": 1, "color": "#555"}, "encoding": {"y": {"datum": 47.3}}},
      {"data": {"name": "b_mean"}, "mark": {"type": "line", "strokeWidth": 2},
       "encoding": {
         "x": {"field": "x", "type": "quantitative", "title": "Policy Iteration Number"},
         "y": {"field": "v", "type": "quantitative", "title": "Mean Predicted Agreement"},
         "color": {"field": "g", "type": "nominal"}
       }},
      {"data": {"name": "b_mean"}, "mark": {"type": "circle", "size": 50, "opacity": 1},
       "encoding": {
         "x": {"field": "x", "type": "quantitative", "title": "Policy Iteration Number"},
         "y": {"field": "v", "type": "quantitative", "title": "Mean Predicted Agreement"},
         "color": {"field": "g", "type": "nominal"}
       }}
    ]
  }
  ]
}
]
}
